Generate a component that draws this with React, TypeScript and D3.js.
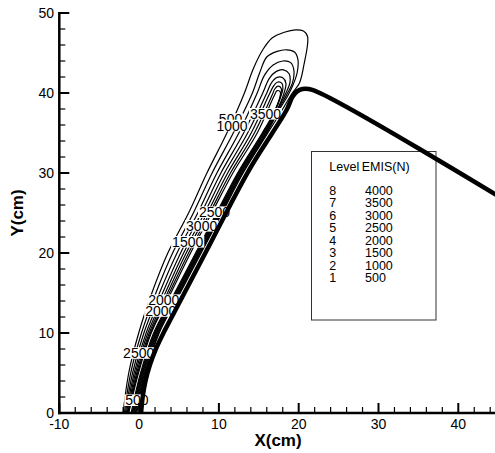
import React from "react";
import * as d3 from "d3";

// ---------- data ----------
const xMajorTicks = [-10, 0, 10, 20, 30, 40];
const xTickLabels = ["-10", "0", "10", "20", "30", "40"];
const yMajorTicks = [0, 10, 20, 30, 40, 50];
const yTickLabels = ["0", "10", "20", "30", "40", "50"];

// thick boundary line (cm)
const wallX = [0.25, 0.45, 0.8, 1.35, 2.1, 3.05, 4.1, 8.3, 13.8, 18.5, 19.2, 19.8, 20.46, 21.7, 46];
const wallY = [0, 2, 4, 6, 8, 10, 12, 20, 30.4, 37.9, 39.5, 40.2, 40.5, 40.4, 26.5];

// contour levels
const legendLevels = [8, 7, 6, 5, 4, 3, 2, 1];
const legendValues = ["4000", "3500", "3000", "2500", "2000", "1500", "1000", "500"];

// each contour: open loop, left side bottom->top, then right side top->bottom  [x cm, y cm]
const contour500: [number, number][] = [
  [-2.0, 0], [-1.3, 5], [-0.05, 10], [1.6, 15], [3.6, 20], [6.2, 25], [8.5, 30], [11.0, 35],
  [13.2, 40], [14.3, 43], [15.5, 45.4], [16.7, 46.9], [18.2, 47.6], [19.6, 47.9], [20.6, 47.75],
  [21.1, 47.1], [21.1, 46.0], [20.7, 43.75], [20.1, 41.25], [19.2, 40], [18.0, 38],
  [16.13, 35], [13.04, 30], [10.41, 25], [7.78, 20], [5.15, 15], [2.52, 10], [0.88, 5], [-0.3, 0],
];
const contour1000: [number, number][] = [
  [-1.85, 0], [-1.05, 5], [0.3, 10], [2.1, 15], [4.2, 20], [6.8, 25], [9.15, 30], [11.8, 35],
  [14.2, 40], [15.1, 42.5], [16.0, 44.5], [17.3, 45.2], [18.5, 45.4], [19.5, 45.1], [19.9, 44.2],
  [19.8, 42.5], [19.2, 40.8], [18.6, 39.6], [17.5, 37.8],
  [16.03, 35], [12.94, 30], [10.31, 25], [7.68, 20], [5.05, 15], [2.42, 10], [0.78, 5], [-0.4, 0],
];
const contour1500: [number, number][] = [
  [-1.72, 0], [-0.82, 5], [0.6, 10], [2.55, 15], [4.75, 20], [7.35, 25], [9.75, 30], [12.5, 35],
  [14.8, 40], [15.7, 42.2], [16.8, 43.5], [18.0, 44.0], [19.0, 43.8], [19.4, 42.8], [19.2, 41.2],
  [18.5, 39.8], [17.3, 37.6],
  [15.93, 35], [12.84, 30], [10.21, 25], [7.58, 20], [4.95, 15], [2.32, 10], [0.68, 5], [-0.5, 0],
];
const contour2000: [number, number][] = [
  [-1.6, 0], [-0.62, 5], [0.88, 10], [2.95, 15], [5.2, 20], [7.8, 25], [10.25, 30], [13.1, 35],
  [15.5, 40], [16.3, 41.8], [17.2, 42.7], [18.1, 42.9], [18.8, 42.4], [18.9, 41.3], [18.3, 39.8],
  [17.2, 37.6],
  [15.83, 35], [12.74, 30], [10.11, 25], [7.48, 20], [4.85, 15], [2.22, 10], [0.58, 5], [-0.6, 0],
];
const contour2500: [number, number][] = [
  [-1.5, 0], [-0.45, 5], [1.1, 10], [3.28, 15], [5.58, 20], [8.2, 25], [10.7, 30], [13.6, 35],
  [16.0, 40], [16.6, 41.3], [17.3, 41.95], [18.0, 41.9], [18.4, 41.2], [18.1, 39.8], [17.1, 37.5],
  [15.73, 35], [12.64, 30], [10.01, 25], [7.38, 20], [4.75, 15], [2.12, 10], [0.48, 5], [-0.7, 0],
];
const contour3000: [number, number][] = [
  [-1.42, 0], [-0.3, 5], [1.28, 10], [3.55, 15], [5.9, 20], [8.55, 25], [11.1, 30], [14.05, 35],
  [16.3, 39.8], [16.8, 40.8], [17.3, 41.35], [17.9, 41.2], [18.0, 40.4], [17.5, 38.9], [16.9, 37.4],
  [15.63, 35], [12.54, 30], [9.91, 25], [7.28, 20], [4.65, 15], [2.02, 10], [0.38, 5], [-0.8, 0],
];
const contour3500: [number, number][] = [
  [-1.35, 0], [-0.18, 5], [1.42, 10], [3.78, 15], [6.2, 20], [8.85, 25], [11.45, 30], [14.45, 35],
  [16.7, 39.8], [17.0, 40.5], [17.4, 40.85], [17.8, 40.6], [17.7, 39.5], [16.8, 37.3],
  [15.53, 35], [12.44, 30], [9.81, 25], [7.18, 20], [4.55, 15], [1.92, 10], [0.28, 5], [-0.9, 0],
];
const contour4000: [number, number][] = [
  [-1.3, 0], [-0.08, 5], [1.52, 10], [3.98, 15], [6.45, 20], [9.1, 25], [11.75, 30], [14.8, 35],
  [16.9, 39.6], [17.3, 40.3], [17.7, 40.1], [17.5, 39.0], [16.7, 37.2],
  [15.43, 35], [12.34, 30], [9.71, 25], [7.08, 20], [4.45, 15], [1.82, 10], [0.18, 5], [-1.0, 0],
];
const contourLines = [contour500, contour1000, contour1500, contour2000, contour2500, contour3000, contour3500, contour4000];

// contour labels (in drawing order)
const labelText = ["500", "2500", "2000", "2000", "1500", "3000", "2500", "500", "1000", "3500"];
const labelX = [-0.27, -0.05, 3.09, 2.71, 6.09, 7.84, 9.46, 11.46, 11.65, 15.84];
const labelY = [1.6, 7.5, 14.1, 12.75, 21.4, 23.4, 25.1, 36.75, 35.94, 37.4];

const FONT = "'Liberation Sans', Arial, Helvetica, sans-serif";

export default function App() {
  const W = 495;
  const H = 453;
  const x = d3.scaleLinear().domain([-10, 44.6]).range([59.3, 495]);
  const y = d3.scaleLinear().domain([0, 50]).range([413, 13]);

  const line = d3
    .line<[number, number]>()
    .x((d) => x(d[0]))
    .y((d) => y(d[1]))
    .curve(d3.curveCatmullRom.alpha(0.5));

  const wallPts: [number, number][] = wallX.map((v, i) => [v, wallY[i]]);
  const xMinor = d3.range(-10, 45, 2).filter((v) => v % 10 !== 0);
  const yMinor = d3.range(0, 51, 2).filter((v) => v % 10 !== 0);

  const x0 = x(-10);
  const y0 = y(0);
  const labelFs = 14;

  return (
    <svg
      width={W}
      height={H}
      viewBox={`0 0 ${W} ${H}`}
      style={{ position: "absolute", left: 0, top: 0, background: "#fff" }}
      fontFamily={FONT}
    >
      <rect x={0} y={0} width={W} height={H} fill="#fff" />
      <defs>
        <clipPath id="plotClip">
          <rect x={x0} y={y(50)} width={W - x0} height={y0 - y(50)} />
        </clipPath>
      </defs>

      {/* contours */}
      <g clipPath="url(#plotClip)">
        {contourLines.map((pts, i) => (
          <path key={i} d={line(pts) || ""} fill="none" stroke="#000" strokeWidth={1.2} />
        ))}
      </g>

      {/* contour labels */}
      <g>
        {labelText.map((t, i) => {
          const w = t.length * 0.556 * labelFs + 2;
          const cx = x(labelX[i]);
          const cy = y(labelY[i]);
          return (
            <g key={i}>
              <rect x={cx - w / 2} y={cy - 5.8} width={w} height={11.6} fill="#fff" />
              <text x={cx} y={cy} dy="0.36em" textAnchor="middle" fontSize={labelFs} fill="#000">
                {t}
              </text>
            </g>
          );
        })}
      </g>

      {/* legend */}
      <g>
        <rect x={311.5} y={151.5} width={124.5} height={168.5} fill="#fff" stroke="#333" strokeWidth={1} />
        <text x={329.3} y={171.3} fontSize={12.5}>Level</text>
        <text x={361.7} y={171.3} fontSize={12.5}>EMIS(N)</text>
        {legendLevels.map((lv, i) => (
          <g key={lv}>
            <text x={329.3} y={195 + i * 12.47} fontSize={12.5}>{lv}</text>
            <text x={365} y={195 + i * 12.47} fontSize={12.5}>{legendValues[i]}</text>
          </g>
        ))}
      </g>

      {/* thick boundary line */}
      <g clipPath="url(#plotClip)">
        <path d={line(wallPts) || ""} fill="none" stroke="#000" strokeWidth={4.5} strokeLinejoin="round" />
      </g>

      {/* axes */}
      <line x1={x0} y1={y(50) - 1} x2={x0} y2={y0 + 1.2} stroke="#000" strokeWidth={2.5} />
      <line x1={x0 - 1.2} y1={y0} x2={W} y2={y0} stroke="#000" strokeWidth={2.5} />

      {xMajorTicks.map((t) => (
        <line key={"xm" + t} x1={x(t)} x2={x(t)} y1={y0} y2={y0 - 10} stroke="#000" strokeWidth={2} />
      ))}
      {xMinor.map((t) => (
        <line key={"xn" + t} x1={x(t)} x2={x(t)} y1={y0} y2={y0 - 6} stroke="#000" strokeWidth={1.2} />
      ))}
      {yMajorTicks.map((t) => (
        <line key={"ym" + t} x1={x0} x2={x0 + 10} y1={y(t)} y2={y(t)} stroke="#000" strokeWidth={2} />
      ))}
      {yMinor.map((t) => (
        <line key={"yn" + t} x1={x0} x2={x0 + 6} y1={y(t)} y2={y(t)} stroke="#000" strokeWidth={1.2} />
      ))}

      {xMajorTicks.map((t, i) => (
        <text key={"xl" + t} x={x(t)} y={428.5} textAnchor="middle" fontSize={14}>
          {xTickLabels[i]}
        </text>
      ))}
      {yMajorTicks.map((t, i) => (
        <text key={"yl" + t} x={54} y={y(t)} dy="0.35em" textAnchor="end" fontSize={14}>
          {yTickLabels[i]}
        </text>
      ))}

      <text x={278} y={446} textAnchor="middle" fontSize={17} fontWeight="bold">
        X(cm)
      </text>
      <text transform="translate(23,213) rotate(-90)" textAnchor="middle" fontSize={17} fontWeight="bold">
        Y(cm)
      </text>
    </svg>
  );
}
